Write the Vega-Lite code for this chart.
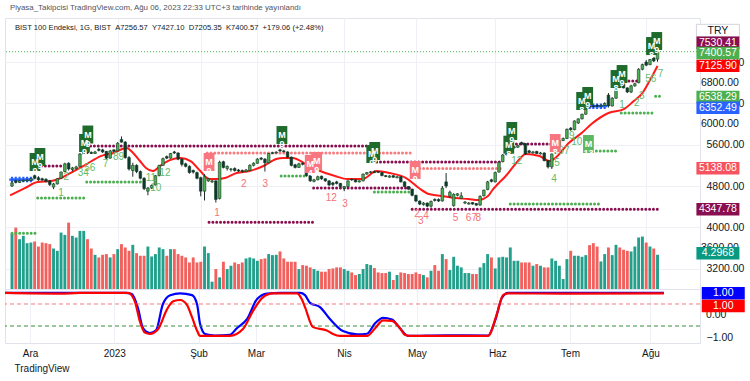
{
"$schema": "https://vega.github.io/schema/vega-lite/v6.json",
"background": "white",
"padding": {"left": 0, "top": 3, "right": 2, "bottom": 2},
"bounds": "flush",
"spacing": 0,
"title": {"text": "Piyasa_Takipcisi TradingView.com, Ağu 06, 2023 22:33 UTC+3 tarihinde yayınlandı", "anchor": "start", "frame": "group", "dx": 5, "fontSize": 7.9, "fontWeight": "normal", "color": "#50535e", "font": "Liberation Sans", "offset": 6},
"config": {"view": {"stroke": "#e0e3eb"}, "font": "Liberation Sans", "axis": {"labelOverlap": false}},
"datasets": {
"one": [{"z": 0}],
"plabels": [{"p": 6800, "t": "6800.00"}, {"p": 6000, "t": "6000.00"}, {"p": 3600, "t": "3600.00"}],
"olabels": [{"p": 0, "t": "0.00"}],
"bars": [
{"i":-6,"o":4800,"h":4900,"l":4780,"c":4860,"v":6.96},
{"i":-5,"o":4900,"h":4920,"l":4850,"c":4870,"v":7.7},
{"i":-4,"o":4870,"h":4920,"l":4860,"c":4900,"v":6.25},
{"i":-3,"o":4895,"h":4925,"l":4880,"c":4910,"v":6.67},
{"i":-2,"o":4900,"h":4930,"l":4885,"c":4915,"v":5.75},
{"i":-1,"o":4910,"h":4950,"l":4900,"c":4940,"v":5.83},
{"i":0,"o":5000,"h":5020,"l":4930,"c":4950,"v":5.96},
{"i":1,"o":4960,"h":4990,"l":4900,"c":4920,"v":5.33},
{"i":2,"o":4940,"h":4960,"l":4900,"c":4915,"v":5.83},
{"i":3,"o":4930,"h":4950,"l":4870,"c":4890,"v":5.75},
{"i":4,"o":4900,"h":4920,"l":4800,"c":4830,"v":5.63},
{"i":5,"o":4780,"h":4860,"l":4740,"c":4840,"v":5.08},
{"i":6,"o":4840,"h":4950,"l":4830,"c":4940,"v":4.79},
{"i":7,"o":4950,"h":5080,"l":4940,"c":5070,"v":7.08},
{"i":8,"o":5080,"h":5250,"l":5070,"c":5230,"v":6.79},
{"i":9,"o":5240,"h":5260,"l":5100,"c":5130,"v":8.33},
{"i":10,"o":5120,"h":5170,"l":5080,"c":5150,"v":6.67},
{"i":11,"o":5140,"h":5190,"l":5120,"c":5170,"v":6.46},
{"i":12,"o":5180,"h":5440,"l":5170,"c":5420,"v":7.29},
{"i":13,"o":5420,"h":5470,"l":5410,"c":5450,"v":7.29},
{"i":14,"o":5460,"h":5480,"l":5420,"c":5440,"v":6.25},
{"i":15,"o":5450,"h":5470,"l":5420,"c":5430,"v":5.08},
{"i":16,"o":5430,"h":5480,"l":5420,"c":5460,"v":4.29},
{"i":17,"o":5510,"h":5540,"l":5470,"c":5490,"v":3.96},
{"i":18,"o":5500,"h":5520,"l":5440,"c":5460,"v":4.29},
{"i":19,"o":5470,"h":5480,"l":5320,"c":5340,"v":4.38},
{"i":20,"o":5340,"h":5500,"l":5330,"c":5480,"v":3.96},
{"i":21,"o":5500,"h":5510,"l":5450,"c":5470,"v":4.38},
{"i":22,"o":5480,"h":5650,"l":5470,"c":5630,"v":5.0},
{"i":23,"o":5700,"h":5760,"l":5640,"c":5650,"v":5.63},
{"i":24,"o":5650,"h":5670,"l":5330,"c":5350,"v":5.21},
{"i":25,"o":5350,"h":5380,"l":5100,"c":5130,"v":4.79},
{"i":26,"o":5100,"h":5250,"l":4980,"c":5200,"v":5.54},
{"i":27,"o":5200,"h":5220,"l":5050,"c":5080,"v":4.5},
{"i":28,"o":5080,"h":5100,"l":4930,"c":4950,"v":4.17},
{"i":29,"o":4950,"h":4970,"l":4720,"c":4750,"v":4.17},
{"i":30,"o":4700,"h":4780,"l":4620,"c":4760,"v":5.33},
{"i":31,"o":4760,"h":4830,"l":4740,"c":4810,"v":4.08},
{"i":32,"o":4820,"h":5010,"l":4810,"c":5000,"v":4.38},
{"i":33,"o":5000,"h":5210,"l":4990,"c":5200,"v":5.21},
{"i":34,"o":5200,"h":5350,"l":5190,"c":5330,"v":5.0},
{"i":35,"o":5370,"h":5390,"l":5320,"c":5340,"v":4.17},
{"i":36,"o":5340,"h":5440,"l":5330,"c":5430,"v":5.0},
{"i":37,"o":5460,"h":5480,"l":5420,"c":5440,"v":5.0},
{"i":38,"o":5440,"h":5450,"l":5300,"c":5320,"v":4.38},
{"i":39,"o":5320,"h":5340,"l":5180,"c":5220,"v":4.17},
{"i":40,"o":5230,"h":5250,"l":5160,"c":5180,"v":3.96},
{"i":41,"o":5180,"h":5200,"l":5040,"c":5060,"v":3.33},
{"i":42,"o":5100,"h":5120,"l":5040,"c":5070,"v":3.96},
{"i":43,"o":5060,"h":5080,"l":4930,"c":4950,"v":3.33},
{"i":44,"o":4960,"h":4980,"l":4600,"c":4700,"v":3.42},
{"i":45,"o":4700,"h":5030,"l":4520,"c":4980,"v":5.33},
{"i":46,"o":4900,"h":4960,"l":4880,"c":4940,"v":4.5},
{"i":47,"o":4880,"h":4920,"l":4860,"c":4900,"v":0.92},
{"i":48,"o":4900,"h":4910,"l":4480,"c":4540,"v":2.5},
{"i":49,"o":4560,"h":5290,"l":4540,"c":5260,"v":1.46},
{"i":50,"o":5270,"h":5290,"l":5140,"c":5160,"v":3.42},
{"i":51,"o":5140,"h":5200,"l":5100,"c":5180,"v":2.5},
{"i":52,"o":5120,"h":5150,"l":5080,"c":5130,"v":2.92},
{"i":53,"o":5140,"h":5160,"l":5080,"c":5100,"v":3.33},
{"i":54,"o":5110,"h":5130,"l":5070,"c":5090,"v":3.13},
{"i":55,"o":5100,"h":5120,"l":5060,"c":5080,"v":3.33},
{"i":56,"o":5080,"h":5130,"l":5070,"c":5110,"v":3.83},
{"i":57,"o":5100,"h":5220,"l":5090,"c":5200,"v":3.96},
{"i":58,"o":5200,"h":5260,"l":5180,"c":5240,"v":3.83},
{"i":59,"o":5240,"h":5340,"l":5230,"c":5320,"v":3.54},
{"i":60,"o":5340,"h":5360,"l":5300,"c":5320,"v":3.75},
{"i":61,"o":5320,"h":5340,"l":5080,"c":5250,"v":3.83},
{"i":62,"o":5250,"h":5440,"l":5240,"c":5430,"v":4.38},
{"i":63,"o":5430,"h":5460,"l":5420,"c":5445,"v":4.25},
{"i":64,"o":5440,"h":5470,"l":5430,"c":5455,"v":4.29},
{"i":65,"o":5500,"h":5520,"l":5460,"c":5480,"v":4.71},
{"i":66,"o":5480,"h":5500,"l":5450,"c":5465,"v":3.83},
{"i":67,"o":5460,"h":5470,"l":5340,"c":5360,"v":3.42},
{"i":68,"o":5360,"h":5370,"l":5180,"c":5200,"v":3.42},
{"i":69,"o":5210,"h":5230,"l":5140,"c":5160,"v":3.42},
{"i":70,"o":5160,"h":5250,"l":5150,"c":5230,"v":2.5},
{"i":71,"o":5240,"h":5260,"l":5200,"c":5220,"v":3.0},
{"i":72,"o":5210,"h":5220,"l":4980,"c":5000,"v":2.92},
{"i":73,"o":5000,"h":5010,"l":4880,"c":4900,"v":2.71},
{"i":74,"o":4890,"h":4940,"l":4870,"c":4920,"v":2.5},
{"i":75,"o":4920,"h":5000,"l":4910,"c":4980,"v":2.29},
{"i":76,"o":4990,"h":5000,"l":4920,"c":4940,"v":2.17},
{"i":77,"o":4940,"h":4950,"l":4880,"c":4900,"v":2.17},
{"i":78,"o":4900,"h":4910,"l":4800,"c":4820,"v":2.5},
{"i":79,"o":4860,"h":4880,"l":4800,"c":4830,"v":2.58},
{"i":80,"o":4880,"h":4900,"l":4830,"c":4850,"v":2.71},
{"i":81,"o":4850,"h":4860,"l":4770,"c":4790,"v":2.71},
{"i":82,"o":4760,"h":4800,"l":4700,"c":4790,"v":2.5},
{"i":83,"o":4790,"h":4910,"l":4780,"c":4900,"v":2.29},
{"i":84,"o":4930,"h":4950,"l":4900,"c":4920,"v":2.08},
{"i":85,"o":4920,"h":4930,"l":4870,"c":4880,"v":1.75},
{"i":86,"o":4880,"h":4910,"l":4870,"c":4900,"v":1.88},
{"i":87,"o":4900,"h":5040,"l":4890,"c":5030,"v":2.5},
{"i":88,"o":5030,"h":5070,"l":5020,"c":5060,"v":3.13},
{"i":89,"o":5060,"h":5090,"l":5050,"c":5075,"v":3.0},
{"i":90,"o":5080,"h":5100,"l":5050,"c":5060,"v":2.63},
{"i":91,"o":5080,"h":5090,"l":5050,"c":5065,"v":2.08},
{"i":92,"o":5060,"h":5070,"l":4990,"c":5000,"v":2.0},
{"i":93,"o":5000,"h":5010,"l":4970,"c":4985,"v":2.0},
{"i":94,"o":4970,"h":5010,"l":4960,"c":4995,"v":2.17},
{"i":95,"o":5000,"h":5010,"l":4960,"c":4970,"v":1.13},
{"i":96,"o":4960,"h":4990,"l":4950,"c":4980,"v":1.75},
{"i":97,"o":4980,"h":4990,"l":4870,"c":4880,"v":2.08},
{"i":98,"o":4880,"h":4890,"l":4780,"c":4790,"v":2.0},
{"i":99,"o":4790,"h":4800,"l":4730,"c":4740,"v":1.88},
{"i":100,"o":4740,"h":4750,"l":4600,"c":4620,"v":1.88},
{"i":101,"o":4620,"h":4630,"l":4490,"c":4510,"v":2.08},
{"i":102,"o":4510,"h":4520,"l":4430,"c":4450,"v":1.88},
{"i":103,"o":4440,"h":4490,"l":4420,"c":4470,"v":1.75},
{"i":104,"o":4470,"h":4480,"l":4390,"c":4410,"v":1.46},
{"i":105,"o":4410,"h":4520,"l":4380,"c":4500,"v":2.29},
{"i":106,"o":4540,"h":4560,"l":4500,"c":4520,"v":3.0},
{"i":107,"o":4540,"h":4560,"l":4490,"c":4510,"v":2.29},
{"i":108,"o":4510,"h":4800,"l":4500,"c":4760,"v":4.38},
{"i":109,"o":4880,"h":5050,"l":4760,"c":4800,"v":3.75},
{"i":110,"o":4600,"h":4710,"l":4570,"c":4680,"v":2.38},
{"i":111,"o":4420,"h":4660,"l":4400,"c":4640,"v":4.04},
{"i":112,"o":4620,"h":4660,"l":4600,"c":4650,"v":2.92},
{"i":113,"o":4560,"h":4680,"l":4550,"c":4610,"v":2.71},
{"i":114,"o":4470,"h":4510,"l":4450,"c":4490,"v":2.0},
{"i":115,"o":4450,"h":4490,"l":4440,"c":4470,"v":2.0},
{"i":116,"o":4480,"h":4490,"l":4440,"c":4450,"v":1.88},
{"i":117,"o":4460,"h":4470,"l":4420,"c":4430,"v":1.88},
{"i":118,"o":4430,"h":4620,"l":4420,"c":4600,"v":2.71},
{"i":119,"o":4610,"h":4730,"l":4600,"c":4720,"v":3.25},
{"i":120,"o":4730,"h":4900,"l":4720,"c":4880,"v":4.38},
{"i":121,"o":4920,"h":4940,"l":4870,"c":4890,"v":3.96},
{"i":122,"o":4880,"h":5080,"l":4870,"c":5060,"v":2.58},
{"i":123,"o":5070,"h":5270,"l":5060,"c":5260,"v":3.96},
{"i":124,"o":5270,"h":5420,"l":5260,"c":5400,"v":4.04},
{"i":125,"o":5410,"h":5440,"l":5390,"c":5420,"v":3.96},
{"i":126,"o":5430,"h":5560,"l":5420,"c":5550,"v":5.21},
{"i":127,"o":5540,"h":5580,"l":5520,"c":5560,"v":3.54},
{"i":128,"o":5550,"h":5600,"l":5540,"c":5580,"v":3.54},
{"i":129,"o":5640,"h":5660,"l":5590,"c":5610,"v":3.33},
{"i":130,"o":5620,"h":5630,"l":5400,"c":5420,"v":3.33},
{"i":131,"o":5480,"h":5500,"l":5430,"c":5450,"v":3.33},
{"i":132,"o":5440,"h":5480,"l":5430,"c":5460,"v":2.92},
{"i":133,"o":5470,"h":5480,"l":5420,"c":5430,"v":3.13},
{"i":134,"o":5420,"h":5460,"l":5410,"c":5440,"v":2.92},
{"i":135,"o":5440,"h":5450,"l":5280,"c":5290,"v":2.71},
{"i":136,"o":5290,"h":5300,"l":5140,"c":5170,"v":2.71},
{"i":137,"o":5170,"h":5430,"l":5130,"c":5420,"v":3.83},
{"i":138,"o":5420,"h":5570,"l":5410,"c":5560,"v":3.54},
{"i":139,"o":5560,"h":5690,"l":5550,"c":5680,"v":2.92},
{"i":140,"o":5680,"h":5740,"l":5670,"c":5720,"v":1.25},
{"i":141,"o":5720,"h":5910,"l":5710,"c":5900,"v":3.75},
{"i":142,"o":5920,"h":5940,"l":5870,"c":5890,"v":4.79},
{"i":143,"o":5890,"h":6070,"l":5880,"c":6060,"v":4.17},
{"i":144,"o":6020,"h":6110,"l":6000,"c":6100,"v":4.17},
{"i":145,"o":6100,"h":6200,"l":6090,"c":6190,"v":4.04},
{"i":146,"o":6190,"h":6310,"l":6180,"c":6300,"v":4.25},
{"i":147,"o":6340,"h":6360,"l":6310,"c":6330,"v":5.5},
{"i":148,"o":6350,"h":6370,"l":6320,"c":6340,"v":5.75},
{"i":149,"o":6360,"h":6380,"l":6330,"c":6345,"v":5.33},
{"i":150,"o":6340,"h":6380,"l":6330,"c":6360,"v":3.46},
{"i":151,"o":6360,"h":6420,"l":6350,"c":6400,"v":4.38},
{"i":152,"o":6560,"h":6600,"l":6320,"c":6350,"v":5.21},
{"i":153,"o":6350,"h":6520,"l":6340,"c":6500,"v":4.25},
{"i":154,"o":6500,"h":6780,"l":6490,"c":6750,"v":5.54},
{"i":155,"o":6800,"h":6820,"l":6740,"c":6770,"v":5.21},
{"i":156,"o":6780,"h":6790,"l":6690,"c":6700,"v":4.92},
{"i":157,"o":6700,"h":6710,"l":6600,"c":6620,"v":4.79},
{"i":158,"o":6620,"h":6760,"l":6600,"c":6740,"v":4.71},
{"i":159,"o":6740,"h":6800,"l":6720,"c":6780,"v":5.33},
{"i":160,"o":6800,"h":7080,"l":6790,"c":7060,"v":6.46},
{"i":161,"o":7060,"h":7170,"l":7040,"c":7150,"v":6.58},
{"i":162,"o":7200,"h":7240,"l":7120,"c":7140,"v":5.83},
{"i":163,"o":7150,"h":7260,"l":7140,"c":7250,"v":5.33},
{"i":164,"o":7280,"h":7300,"l":7200,"c":7221.51,"v":5.08},
{"i":165,"o":7256.57,"h":7427.1,"l":7205.35,"c":7400.57,"v":4.2968}
],
"ema": [
{"i":-6.5,"e":4620},{"i":-2.6,"e":4760},{"i":0.8,"e":4878},{"i":4.4,"e":4897},{"i":7,"e":4955},{"i":10.4,"e":5090},{"i":13.8,"e":5226},{"i":17.5,"e":5380},{"i":20.9,"e":5440},{"i":24.3,"e":5536},{"i":26.1,"e":5440},{"i":27.9,"e":5284},{"i":29.5,"e":5149},{"i":31.3,"e":5090},{"i":33.2,"e":5187},{"i":35.8,"e":5300},{"i":38.6,"e":5342},{"i":41.3,"e":5284},{"i":43.9,"e":5090},{"i":46.2,"e":4936},{"i":48.3,"e":4936},{"i":50.4,"e":4955},{"i":53.5,"e":5052},{"i":56.9,"e":5090},{"i":60.6,"e":5187},{"i":64,"e":5323},{"i":65.8,"e":5342},{"i":68.4,"e":5342},{"i":71.8,"e":5226},{"i":74.4,"e":5129},{"i":77,"e":5052},{"i":79.6,"e":4994},{"i":82.8,"e":4936},{"i":86.9,"e":4936},{"i":90.6,"e":5090},{"i":94,"e":5052},{"i":98.4,"e":4955},{"i":101.8,"e":4761},{"i":104.4,"e":4645},{"i":107.8,"e":4606},{"i":111.5,"e":4567},{"i":114.9,"e":4548},{"i":117.5,"e":4529},{"i":120.1,"e":4606},{"i":121.4,"e":4736},{"i":122.7,"e":4838},{"i":124.8,"e":4994},{"i":128.5,"e":5323},{"i":130,"e":5420},{"i":133.7,"e":5381},{"i":136.3,"e":5284},{"i":137.9,"e":5342},{"i":141.5,"e":5632},{"i":144.9,"e":5826},{"i":147.5,"e":6000},{"i":152,"e":6213},{"i":156.1,"e":6290},{"i":158.7,"e":6446},{"i":161,"e":6600},{"i":163,"e":6850},{"i":165,"e":7126}
],
"levels": [
{"a":0.8,"b":7.3,"p":5187,"k":"mar"},{"a":13.8,"b":89.6,"p":5575,"k":"mar"},{"a":46.2,"b":73.9,"p":4100,"k":"mar"},{"a":73.9,"b":99.7,"p":4760,"k":"mar"},{"a":90.6,"b":124,"p":5265,"k":"mar"},{"a":100,"b":165.8,"p":4347.78,"k":"mar"},{"a":126.6,"b":138.4,"p":5612,"k":"mar"},{"a":155.4,"b":160,"p":6833,"k":"mar"},{"a":164.5,"b":166,"p":7530.41,"k":"mar"},
{"a":45.7,"b":99.7,"p":5440,"k":"sal"},{"a":100,"b":124,"p":5138.08,"k":"sal"},
{"a":-6,"b":0.5,"p":3886,"k":"grn"},{"a":0.8,"b":13.6,"p":4567,"k":"grn"},{"a":13.8,"b":28.7,"p":4878,"k":"grn"},{"a":65.3,"b":71.8,"p":4994,"k":"grn"},{"a":90,"b":99.7,"p":4684,"k":"grn"},{"a":126,"b":150,"p":4452,"k":"grn"},{"a":148.8,"b":154.8,"p":5478,"k":"grn"},{"a":155.4,"b":164,"p":6213,"k":"grn"},{"a":164.5,"b":166,"p":6538.29,"k":"grn"}
],
"cross": [
{"i":-6,"p":4925},{"i":-5,"p":4925},{"i":-4,"p":4925},{"i":-3,"p":4925},{"i":-2,"p":4925},{"i":-1,"p":4925},
{"i":146,"p":6345},{"i":147,"p":6345},{"i":148,"p":6345},{"i":149,"p":6345},{"i":150,"p":6345},{"i":151,"p":6345}
],
"counts": [
{"i":7.0,"p":4665,"t":"1","k":"g"},{"i":8.4,"p":4974,"t":"2","k":"g"},{"i":12.9,"p":5052,"t":"34","k":"g"},{"i":14.6,"p":5149,"t":"56","k":"g"},{"i":18.8,"p":5226,"t":"7","k":"g"},{"i":22.2,"p":5362,"t":"89","k":"g"},{"i":32.1,"p":4761,"t":"10","k":"g"},{"i":30.8,"p":4955,"t":"11","k":"g"},{"i":34.5,"p":5052,"t":"12","k":"g"},{"i":127.7,"p":5284,"t":"12","k":"g"},{"i":137.6,"p":4936,"t":"4","k":"g"},{"i":138.4,"p":5245,"t":"5","k":"g"},{"i":140.2,"p":5478,"t":"67","k":"g"},{"i":142.3,"p":5768,"t":"9","k":"g"},{"i":143.6,"p":5652,"t":"10","k":"g"},{"i":155.6,"p":6368,"t":"1","k":"g"},{"i":159.5,"p":6407,"t":"2","k":"g"},{"i":160.8,"p":6542,"t":"3","k":"g"},{"i":163.2,"p":6871,"t":"56","k":"g"},{"i":165.8,"p":6968,"t":"7","k":"g"},
{"i":48.3,"p":4277,"t":"1","k":"r"},{"i":55.4,"p":4839,"t":"2","k":"r"},{"i":61.1,"p":4839,"t":"3","k":"r"},{"i":78.6,"p":4567,"t":"12","k":"r"},{"i":82.2,"p":4452,"t":"3","k":"r"},{"i":101.3,"p":4258,"t":"2","k":"r"},{"i":102.3,"p":4122,"t":"3","k":"r"},{"i":103.7,"p":4219,"t":"4","k":"r"},{"i":111.5,"p":4180,"t":"5","k":"r"},{"i":115.7,"p":4180,"t":"67","k":"r"},{"i":117.5,"p":4180,"t":"8","k":"r"}
],
"badges": [
{"i":0.1,"p":5265,"t":"M\n9","k":"buy"},{"i":1.4,"p":5362,"t":"M\n9","k":"buy"},{"i":13.2,"p":5633,"t":"M\n9","k":"buy"},{"i":14.1,"p":5797,"t":"M\n9","k":"buy"},{"i":65.5,"p":5787,"t":"M\n9","k":"buy"},{"i":46.2,"p":5265,"t":"M\n9","k":"sell"},{"i":73,"p":5226,"t":"M\n4","k":"sell"},{"i":74.7,"p":5284,"t":"M\n9","k":"sell"},{"i":89.3,"p":5420,"t":"M\n9","k":"buy"},{"i":90.1,"p":5478,"t":"M\n9","k":"buy"},{"i":100.8,"p":5110,"t":"M\n9","k":"sell"},{"i":125.6,"p":5600,"t":"M\n8","k":"buy"},{"i":126.4,"p":5865,"t":"M\n9","k":"buy"},{"i":137.9,"p":5632,"t":"M\n8","k":"sell"},{"i":146.7,"p":5613,"t":"M\n13","k":"big"},{"i":144.9,"p":6446,"t":"M\n8","k":"buy"},{"i":146.5,"p":6543,"t":"M\n9","k":"buy"},{"i":154,"p":6871,"t":"M\n8","k":"buy"},{"i":155.6,"p":6968,"t":"M\n9","k":"buy"},{"i":163.4,"p":7510,"t":"M\n8","k":"buy"},{"i":164.8,"p":7607,"t":"M\n9","k":"buy"}
],
"tags": [
{"p":7810,"t":"TRY","k":"try"},{"p":7574,"t":"7530.41","k":"mar"},{"p":7375,"t":"7400.57","k":"grn"},{"p":7126,"t":"7125.90","k":"red"},{"p":6523,"t":"6538.29","k":"grn"},{"p":6316,"t":"6352.49","k":"blu"},{"p":5143,"t":"5138.08","k":"sal"},{"p":4349,"t":"4347.78","k":"mar"},{"p":3497,"t":"4.2968","k":"teal"}
],
"osc": [
{"i":-6.5,"v":1,"s":"a"},{"i":24.8,"v":1,"s":"a"},{"i":26.6,"v":0.95,"s":"a"},{"i":28.2,"v":0.3,"s":"a"},{"i":29.5,"v":-0.6,"s":"a"},{"i":31.3,"v":-0.82,"s":"a"},{"i":32.9,"v":-0.7,"s":"a"},{"i":34.7,"v":0.5,"s":"a"},{"i":36.6,"v":0.9,"s":"a"},{"i":39.2,"v":0.98,"s":"a"},{"i":42.3,"v":0.9,"s":"a"},{"i":43.6,"v":0.5,"s":"a"},{"i":44.4,"v":-0.4,"s":"a"},{"i":45.7,"v":-0.86,"s":"a"},{"i":48.3,"v":-0.93,"s":"a"},{"i":52.2,"v":-0.9,"s":"a"},{"i":54,"v":-0.6,"s":"a"},{"i":56.7,"v":-0.18,"s":"a"},{"i":59.3,"v":0.73,"s":"a"},{"i":61.9,"v":0.97,"s":"a"},{"i":65.3,"v":1,"s":"a"},{"i":70.5,"v":1,"s":"a"},{"i":71.8,"v":0.9,"s":"a"},{"i":73.1,"v":0.55,"s":"a"},{"i":75.7,"v":0.36,"s":"a"},{"i":78.3,"v":-0.18,"s":"a"},{"i":81.7,"v":-0.73,"s":"a"},{"i":85.4,"v":-0.88,"s":"a"},{"i":88,"v":-0.85,"s":"a"},{"i":90.1,"v":-0.37,"s":"a"},{"i":92.2,"v":-0.13,"s":"a"},{"i":94.5,"v":-0.2,"s":"a"},{"i":96.6,"v":-0.6,"s":"a"},{"i":98.7,"v":-0.95,"s":"a"},{"i":108.4,"v":-0.92,"s":"a"},{"i":119.6,"v":-0.93,"s":"a"},{"i":121.4,"v":-0.27,"s":"a"},{"i":123.2,"v":0.77,"s":"a"},{"i":124.8,"v":1,"s":"a"},{"i":165.5,"v":1,"s":"a"},
{"i":-6.5,"v":1,"s":"b"},{"i":7.8,"v":0.97,"s":"b"},{"i":13,"v":1,"s":"b"},{"i":25.6,"v":1,"s":"b"},{"i":27.4,"v":0.6,"s":"b"},{"i":28.7,"v":-0.3,"s":"b"},{"i":30,"v":-0.8,"s":"b"},{"i":31.3,"v":-0.86,"s":"b"},{"i":33.4,"v":-0.65,"s":"b"},{"i":35.8,"v":0.27,"s":"b"},{"i":37.4,"v":0.62,"s":"b"},{"i":39.2,"v":0.68,"s":"b"},{"i":41,"v":0.45,"s":"b"},{"i":42.3,"v":-0.1,"s":"b"},{"i":43.6,"v":-0.7,"s":"b"},{"i":44.4,"v":-0.95,"s":"b"},{"i":52.2,"v":-0.95,"s":"b"},{"i":55.6,"v":-0.64,"s":"b"},{"i":58.2,"v":0.18,"s":"b"},{"i":60.8,"v":0.8,"s":"b"},{"i":63.4,"v":0.98,"s":"b"},{"i":69.7,"v":0.98,"s":"b"},{"i":71,"v":0.7,"s":"b"},{"i":71.8,"v":0.36,"s":"b"},{"i":73.9,"v":-0.55,"s":"b"},{"i":77.5,"v":-0.7,"s":"b"},{"i":79.1,"v":-0.86,"s":"b"},{"i":80.9,"v":-0.95,"s":"b"},{"i":88,"v":-0.95,"s":"b"},{"i":90.1,"v":-0.6,"s":"b"},{"i":92.2,"v":-0.24,"s":"b"},{"i":94.5,"v":-0.27,"s":"b"},{"i":96.6,"v":-0.6,"s":"b"},{"i":97.9,"v":-0.9,"s":"b"},{"i":99.2,"v":-0.95,"s":"b"},{"i":119.6,"v":-0.95,"s":"b"},{"i":121.9,"v":0.05,"s":"b"},{"i":123.5,"v":0.9,"s":"b"},{"i":124.8,"v":0.98,"s":"b"},{"i":138.9,"v":0.97,"s":"b"},{"i":165.5,"v":0.98,"s":"b"}
],
"tags2": [
{"p":0.99,"t":"1.00","k":"blu"},{"p":0.41,"t":"1.00","k":"red"}
]
},
"vconcat": [
{
"width": 695, "height": 271,
"layer": [
{
"data": {"name": "bars"},
"mark": {"type": "bar", "width": 2.9},
"encoding": {
"x": {"field": "i", "type": "quantitative", "scale": {"domain": [-6.53, 174.93], "nice": false, "zero": false}, "axis": {"values": [0,22,44,59,82,101,122,141,162], "grid": true, "gridColor": "#eef0f5", "labels": false, "ticks": false, "domain": false, "title": null, "zindex": 0}},
"y": {"field": "v", "type": "quantitative", "scale": {"domain": [0, 34], "nice": false, "zero": true}, "axis": null},
"color": {"condition": {"test": "datum.c >= datum.o", "value": "#22a08c"}, "value": "#f2615d"}
}
},
{
"layer": [
{
"data": {"name": "levels"},
"mark": {"type": "rule", "strokeWidth": 3, "strokeCap": "round", "strokeDash": [0.01, 3.82]},
"encoding": {
"x": {"field": "a", "type": "quantitative"},
"x2": {"field": "b"},
"y": {"field": "p", "type": "quantitative", "scale": {"domain": [2806, 8053], "nice": false, "zero": false}, "axis": {"orient": "right", "values": [3200,3600,4000,4400,4800,5200,5600,6000,6400,6800,7200,7600], "format": ".2f", "grid": true, "gridColor": "#eef0f5", "domain": false, "ticks": false, "labelPadding": 6, "labelFontSize": 10.5, "labelColor": "#131722", "labelFont": "Liberation Sans", "labelOverlap": false, "title": null, "zindex": 0}},
"color": {"field": "k", "type": "nominal", "scale": {"domain": ["mar","grn","sal"], "range": ["#880e4f","#4caf50","#f77c80"]}, "legend": null}
}
},
{
"data": {"name": "one"},
"mark": {"type": "rule", "color": "#4caf50", "strokeDash": [1, 2], "strokeWidth": 1},
"encoding": {"y": {"datum": 7400.57}}
},
{
"data": {"name": "ema"},
"mark": {"type": "line", "color": "#ff1a1a", "strokeWidth": 2, "interpolate": "monotone"},
"encoding": {"x": {"field": "i", "type": "quantitative"}, "y": {"field": "e", "type": "quantitative"}}
},
{
"data": {"name": "cross"},
"mark": {"type": "point", "shape": "cross", "filled": true, "color": "#2962ff", "size": 30, "opacity": 1},
"encoding": {"x": {"field": "i", "type": "quantitative"}, "y": {"field": "p", "type": "quantitative"}}
},
{
"data": {"name": "bars"},
"mark": {"type": "rule", "color": "#1c2b24", "strokeWidth": 1},
"encoding": {"x": {"field": "i", "type": "quantitative"}, "y": {"field": "l", "type": "quantitative"}, "y2": {"field": "h"}}
},
{
"data": {"name": "bars"},
"mark": {"type": "bar", "width": 2.6, "stroke": "#143826", "strokeWidth": 0.6},
"encoding": {
"x": {"field": "i", "type": "quantitative"},
"y": {"field": "o", "type": "quantitative"},
"y2": {"field": "c"},
"fill": {"condition": {"test": "datum.c >= datum.o", "value": "#4caf50"}, "value": "#0c3b2c"}
}
},
{
"data": {"name": "counts"},
"mark": {"type": "text", "fontSize": 10, "baseline": "middle"},
"encoding": {
"x": {"field": "i", "type": "quantitative"},
"y": {"field": "p", "type": "quantitative"},
"text": {"field": "t"},
"color": {"field": "k", "type": "nominal", "scale": {"domain": ["g","r"], "range": ["#66bb6a","#f7707a"]}, "legend": null}
}
},
{
"data": {"name": "badges"},
"mark": {"type": "point", "shape": "M-0.6,-1L0.6,-1L0.6,1L-0.6,1Z", "filled": true, "opacity": 1},
"encoding": {
"x": {"field": "i", "type": "quantitative"},
"y": {"field": "p", "type": "quantitative"},
"color": {"field": "k", "type": "nominal", "scale": {"domain": ["buy","sell","big"], "range": ["#1e6b2b","#f7767f","#5cb860"]}, "legend": null},
"size": {"field": "k", "type": "ordinal", "scale": {"domain": ["buy","sell","big"], "range": [324, 324, 729]}, "legend": null}
}
},
{
"data": {"name": "badges"},
"mark": {"type": "text", "lineBreak": "\n", "fontSize": 9, "fontWeight": "bold", "color": "#ffffff", "lineHeight": 9, "baseline": "middle"},
"encoding": {
"x": {"field": "i", "type": "quantitative"},
"y": {"field": "p", "type": "quantitative"},
"text": {"field": "t"}
}
},
{
"data": {"name": "one"},
"mark": {"type": "text", "align": "left", "baseline": "middle", "fontSize": 7.6, "color": "#131722"},
"encoding": {"x": {"datum": -5.22}, "y": {"datum": 7859}, "text": {"value": "BIST 100 Endeksi, 1G, BIST\u00a0\u00a0A7256.57\u00a0\u00a0Y7427.10\u00a0\u00a0D7205.35\u00a0\u00a0K7400.57\u00a0\u00a0+179.06 (+2.48%)"}}
},
{
"data": {"name": "plabels"},
"mark": {"type": "text", "align": "left", "baseline": "middle", "fontSize": 10.5, "color": "#131722"},
"encoding": {"x": {"datum": 176.5}, "y": {"field": "p", "type": "quantitative"}, "text": {"field": "t"}}
},
{
"data": {"name": "tags"},
"mark": {"type": "point", "shape": "M-1,-0.29L1,-0.29L1,0.29L-1,0.29Z", "filled": true, "size": 1849, "opacity": 1, "stroke": "#d1d4dc"},
"encoding": {
"x": {"datum": 181},
"y": {"field": "p", "type": "quantitative"},
"color": {"field": "k", "type": "nominal", "scale": {"domain": ["try","mar","grn","red","blu","sal","teal"], "range": ["#ffffff","#880e4f","#4caf50","#ff0000","#2962ff","#f7525f","#089981"]}, "legend": null},
"strokeWidth": {"condition": {"test": "datum.k == 'try'", "value": 1}, "value": 0}
}
},
{
"data": {"name": "tags"},
"mark": {"type": "text", "fontSize": 10.5, "baseline": "middle", "align": "center"},
"encoding": {
"x": {"datum": 181},
"y": {"field": "p", "type": "quantitative"},
"text": {"field": "t"},
"color": {"condition": {"test": "datum.k == 'try'", "value": "#131722"}, "value": "#ffffff"}
}
}
],
"resolve": {"scale": {"color": "independent", "size": "independent"}}
}
],
"resolve": {"scale": {"y": "independent"}}
},
{
"width": 695, "height": 54,
"layer": [
{
"data": {"name": "osc"},
"transform": [{"filter": "datum.s == 'a'"}],
"mark": {"type": "line", "color": "#0000ff", "strokeWidth": 2.2, "interpolate": "monotone"},
"encoding": {
"x": {"field": "i", "type": "quantitative", "scale": {"domain": [-6.53, 174.93], "nice": false, "zero": false}, "axis": {"values": [0,22,44,59,82,101,122,141,162], "labelExpr": "datum.value == 0 ? 'Ara' : datum.value == 22 ? '2023' : datum.value == 44 ? 'Şub' : datum.value == 59 ? 'Mar' : datum.value == 82 ? 'Nis' : datum.value == 101 ? 'May' : datum.value == 122 ? 'Haz' : datum.value == 141 ? 'Tem' : 'Ağu'", "grid": true, "gridColor": "#eef0f5", "ticks": false, "domain": false, "labelPadding": 5, "labelFontSize": 10, "labelFont": "Liberation Sans", "labelColor": "#131722", "labelFlush": false, "labelOverlap": false, "title": "TradingView", "titleFont": "Liberation Sans", "titleAnchor": "start", "titleAlign": "left", "titleX": 9, "titleFontSize": 10, "titleFontWeight": "normal", "titleColor": "#131722", "titlePadding": 5, "zindex": 0}},
"y": {"field": "v", "type": "quantitative", "scale": {"domain": [-1.27, 1.18], "nice": false, "zero": false}, "axis": {"orient": "right", "values": [1, 0, -1], "format": ".2f", "grid": false, "domain": false, "ticks": false, "labelPadding": 6, "labelFontSize": 10.5, "labelFont": "Liberation Sans", "labelColor": "#131722", "labelOverlap": false, "title": null, "zindex": 0}}
}
},
{
"data": {"name": "one"},
"mark": {"type": "rule", "color": "#f77c80", "strokeDash": [4, 3], "strokeWidth": 1},
"encoding": {"y": {"datum": 0.5}}
},
{
"data": {"name": "one"},
"mark": {"type": "rule", "color": "#388e3c", "strokeDash": [4, 3], "strokeWidth": 1},
"encoding": {"y": {"datum": -0.5}}
},
{
"data": {"name": "osc"},
"transform": [{"filter": "datum.s == 'b'"}],
"mark": {"type": "line", "color": "#ff0000", "strokeWidth": 2.2, "interpolate": "monotone"},
"encoding": {
"x": {"field": "i", "type": "quantitative"},
"y": {"field": "v", "type": "quantitative"}
}
},
{
"data": {"name": "olabels"},
"mark": {"type": "text", "align": "left", "baseline": "middle", "fontSize": 10.5, "color": "#131722"},
"encoding": {"x": {"datum": 176.5}, "y": {"field": "p", "type": "quantitative"}, "text": {"field": "t"}}
},
{
"data": {"name": "tags2"},
"mark": {"type": "point", "shape": "M-1,-0.29L1,-0.29L1,0.29L-1,0.29Z", "filled": true, "size": 1849, "opacity": 1},
"encoding": {
"x": {"datum": 181},
"y": {"field": "p", "type": "quantitative"},
"color": {"field": "k", "type": "nominal", "scale": {"domain": ["blu","red"], "range": ["#0000ff","#ff0000"]}, "legend": null}
}
},
{
"data": {"name": "tags2"},
"mark": {"type": "text", "fontSize": 10.5, "baseline": "middle", "align": "center", "color": "#ffffff"},
"encoding": {
"x": {"datum": 181},
"y": {"field": "p", "type": "quantitative"},
"text": {"field": "t"}
}
}
]
}
]
}
